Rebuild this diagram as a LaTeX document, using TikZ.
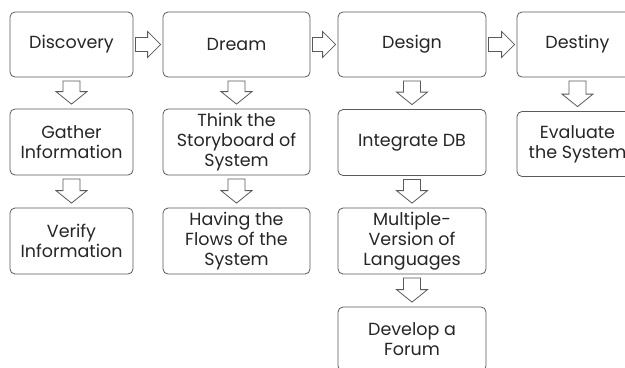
\documentclass[tikz,border=0pt]{standalone}
\usepackage{fontspec}
\setmainfont{Poppins}
\usetikzlibrary{calc}
\definecolor{edge}{HTML}{5A5A5A}
\definecolor{ink}{HTML}{262626}
\tikzset{
  box/.style={draw=edge, line width=0.8bp, rounded corners=5bp, align=center,
    text=ink, font=\fontsize{17.5bp}{20bp}\selectfont, inner sep=0pt, fill=white},
  blk/.style={draw=edge, line width=0.8bp, fill=white, line join=miter}
}
\newcommand\myRightArrow[2]{%
  \draw[blk] let \p1=(#1.east), \p2=(#2.west),
    \n1={\x1+2bp}, \n2={\x2-2bp}, \n3={\x2-15bp} in
    (\n1,\y1+7bp) -- (\n3,\y1+7bp) -- (\n3,\y1+13bp) -- (\n2,\y1)
    -- (\n3,\y1-13bp) -- (\n3,\y1-7bp) -- (\n1,\y1-7bp) -- cycle;}
\newcommand\myDownArrow[2]{%
  \draw[blk] let \p1=(#1.south), \p2=(#2.north),
    \n1={\y1-3.5bp}, \n2={\y2+4.5bp}, \n3={\y2+17bp} in
    (\x1-8.5bp,\n1) -- (\x1-8.5bp,\n3) -- (\x1-15.5bp,\n3) -- (\x1,\n2)
    -- (\x1+15.5bp,\n3) -- (\x1+8.5bp,\n3) -- (\x1+8.5bp,\n1) -- cycle;}
\begin{document}
\begin{tikzpicture}[x=1bp,y=-1bp]
\useasboundingbox (0,0) rectangle (625,367);
\clip (0,0) rectangle (625,367);
\fill[white] (0,0) rectangle (625,367);
% row 1
\node[box, minimum width=123bp, minimum height=65bp] (disc) at (71.5,44.5) {Discovery};
\node[box, minimum width=147bp, minimum height=65bp] (dream) at (236.5,44.5) {Dream};
\node[box, minimum width=148bp, minimum height=65bp] (design) at (412,44.5) {Design};
\node[box, minimum width=121bp, minimum height=65bp] (destiny) at (577.5,44.5) {Destiny};
% row 2
\node[box, minimum width=123bp, minimum height=66bp] (gather) at (71.5,142) {Gather\\Information};
\node[box, minimum width=147bp, minimum height=66bp] (think) at (236.5,142) {Think the\\Storyboard of\\System};
\node[box, minimum width=148bp, minimum height=66bp] (integ) at (412,142.5) {Integrate DB};
\node[box, minimum width=121bp, minimum height=65bp] (eval) at (577.5,144) {Evaluate\\the System};
% row 3
\node[box, minimum width=123bp, minimum height=66bp] (verify) at (71.5,241) {Verify\\Information};
\node[box, minimum width=147bp, minimum height=66bp] (having) at (236.5,241) {Having the\\Flows of the\\System};
\node[box, minimum width=148bp, minimum height=66bp] (multi) at (412,241) {Multiple-\\Version of\\Languages};
% row 4
\node[box, minimum width=148bp, minimum height=64bp] (forum) at (412,339) {Develop a\\Forum};
% arrows
\myRightArrow{disc}{dream}
\myRightArrow{dream}{design}
\myRightArrow{design}{destiny}
\myDownArrow{disc}{gather}
\myDownArrow{gather}{verify}
\myDownArrow{dream}{think}
\myDownArrow{think}{having}
\myDownArrow{design}{integ}
\myDownArrow{integ}{multi}
\myDownArrow{multi}{forum}
\myDownArrow{destiny}{eval}
\end{tikzpicture}
\end{document}
